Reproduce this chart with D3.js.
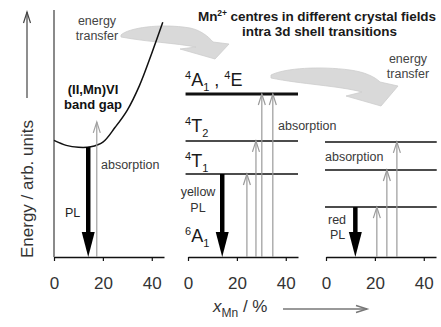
<!DOCTYPE html>
<html>
<head>
<meta charset="utf-8">
<script src="https://cdn.jsdelivr.net/npm/d3@7"></script>
<style>
  html, body { margin: 0; padding: 0; background: #fff; }
  svg { display: block; font-family: "Liberation Sans", Arial, Helvetica, sans-serif; }
</style>
</head>
<body>
<svg id="chart" width="441" height="327"></svg>
<script>
// ---- data -------------------------------------------------------------
const xTicks = [0, 20, 40];

// (II,Mn)VI band gap versus Mn content (x in %, energy in arb. units)
const gapX = [0, 5, 10, 15, 20, 25, 30, 35, 40, 44.5];
const gapE = [4.72, 4.52, 4.44, 4.46, 4.65, 5.25, 5.95, 6.95, 8.25, 9.5];
const gapAbsX = [17.5];
const gapAbsE = [5.47];
const gapPLX = [14];
const gapPLE = [4.45];

// Mn2+ levels, yellow-emitting centres: 4A1/4E, 4T2, 4T1
const yellowLevelE = [6.6, 4.7, 3.36];
const yellowAbsX = [24.1, 27.8, 30.2, 34.7];
const yellowAbsE = [3.36, 4.7, 6.6, 6.6];
const yellowPLX = [14];
const yellowPLE = [3.36];

// Mn2+ levels, red-emitting centres
const redLevelE = [4.66, 3.52, 2.02];
const redAbsX = [20.8, 24.9, 29];
const redAbsE = [2.02, 3.52, 4.66];
const redPLX = [12];
const redPLE = [2.02];

// ---- layout -----------------------------------------------------------
const svg = d3.select("#chart");
const font = "'Liberation Sans', Arial, Helvetica, sans-serif";
const axisY = 257;
const panelLeft = [54, 188, 326];
const panelSpan = 110;

const y = d3.scaleLinear().domain([0, 10]).range([axisY, 10]);
const xs = panelLeft.map(l => d3.scaleLinear().domain([0, 45]).range([l, l + panelSpan]));

// ---- energy-transfer arrows (drawn first, light grey ribbons) --------
const ribbon = svg.append("g");
ribbon.append("path")
  .attr("d", "M121,35 C128,28 160,23 190,28 C200,30 208,36 213,42 L229,44 L215,59 L180,49 L196,47 C175,43 148,42 121,37 Z");
ribbon.append("path")
  .attr("d", "M271,75 C285,68 320,66 350,70 C365,72 375,77 380,82 L398,86 L381,106 L346,96 L362,92 C340,86 300,84 271,78 Z");
ribbon.selectAll("path")
  .attr("fill", "#d9d9d9")
  .attr("stroke", "#cdcdcd")
  .attr("stroke-width", 0.8);

// ---- axes -------------------------------------------------------------
xs.forEach(x => {
  const g = svg.append("g")
    .attr("transform", `translate(0,${axisY})`)
    .call(d3.axisBottom(x).tickValues(xTicks).tickSize(4).tickSizeOuter(0).tickPadding(16));
  g.select(".domain").attr("stroke", "#111").attr("stroke-width", 1.6);
  g.selectAll(".tick line").attr("stroke", "#111").attr("stroke-width", 1.2);
  g.selectAll(".tick text")
    .attr("font-family", font).attr("font-size", 17).attr("fill", "#333");
});

// vertical energy axis of the band-gap panel
svg.append("line")
  .attr("x1", xs[0](0)).attr("x2", xs[0](0))
  .attr("y1", y(0)).attr("y2", y(10))
  .attr("stroke", "#8a8a8a").attr("stroke-width", 2);

// ---- helpers ----------------------------------------------------------
function absArrow(x, xv, e, color) {
  const px = x(xv), top = y(e);
  const g = svg.append("g").attr("stroke", color || "#9a9a9a").attr("fill", "none").attr("stroke-width", 1.2);
  g.append("line").attr("x1", px).attr("x2", px).attr("y1", y(0)).attr("y2", top);
  g.append("path").attr("d", `M${px - 3.5},${top + 11} L${px},${top} L${px + 3.5},${top + 11}`);
}

function plArrow(x, xv, e) {
  const px = x(xv), top = y(e), bottom = y(0);
  svg.append("line")
    .attr("x1", px).attr("x2", px).attr("y1", top).attr("y2", bottom - 20)
    .attr("stroke", "#000").attr("stroke-width", 4.5);
  svg.append("path")
    .attr("d", `M${px - 6.5},${bottom - 25} L${px + 6.5},${bottom - 25} L${px},${bottom} Z`)
    .attr("fill", "#000");
}

function levelLines(x, energies, x0, x1, thickFirst) {
  energies.forEach((e, i) => {
    svg.append("line")
      .attr("x1", x(x0)).attr("x2", x(x1))
      .attr("y1", y(e)).attr("y2", y(e))
      .attr("stroke", "#111")
      .attr("stroke-width", thickFirst && i === 0 ? 3 : 1.5);
  });
}

// term symbol such as 4T1: multiplicity superscript, letter, subscript.
// Returns the baseline offset left over by the subscript.
function term(text, mult, letter, sub, carry) {
  text.append("tspan").attr("font-size", 11).attr("dy", -7 - (carry || 0)).text(mult);
  text.append("tspan").attr("font-size", 18).attr("dy", 7).text(letter);
  if (sub) {
    text.append("tspan").attr("font-size", 11).attr("dy", 5).text(sub);
    return 5;
  }
  return 0;
}

function termLabel(py) {
  return svg.append("text").attr("x", xs[1](0) - 3).attr("y", py)
    .attr("font-family", font).attr("font-size", 18).attr("fill", "#1a1a1a");
}

function label(px, py, lines, opts) {
  const o = Object.assign({ size: 12.5, color: "#3a3a3a", anchor: "start", weight: "normal", gap: 15 }, opts);
  const t = svg.append("text")
    .attr("x", px).attr("y", py)
    .attr("font-family", font).attr("font-size", o.size)
    .attr("font-weight", o.weight).attr("fill", o.color)
    .attr("text-anchor", o.anchor);
  lines.forEach((s, i) => t.append("tspan").attr("x", px).attr("dy", i ? o.gap : 0).text(s));
  return t;
}

// ---- panel 1: band gap ------------------------------------------------
const gapLine = d3.line()
  .x(d => xs[0](d[0]))
  .y(d => y(d[1]))
  .curve(d3.curveCatmullRom);
svg.append("path")
  .datum(gapX.map((v, i) => [v, gapE[i]]))
  .attr("d", gapLine)
  .attr("fill", "none").attr("stroke", "#111").attr("stroke-width", 1.5);

gapAbsX.forEach((v, i) => absArrow(xs[0], v, gapAbsE[i], "#a0a0a0"));
gapPLX.forEach((v, i) => plArrow(xs[0], v, gapPLE[i]));

// ---- panel 2: yellow centres ----------------------------------------
levelLines(xs[1], yellowLevelE, -1, 45, true);
yellowAbsX.forEach((v, i) => absArrow(xs[1], v, yellowAbsE[i]));
yellowPLX.forEach((v, i) => plArrow(xs[1], v, yellowPLE[i]));

// ---- panel 3: red centres -------------------------------------------
levelLines(xs[2], redLevelE, -0.4, 45.3, false);
redAbsX.forEach((v, i) => absArrow(xs[2], v, redAbsE[i]));
redPLX.forEach((v, i) => plArrow(xs[2], v, redPLE[i]));

// ---- term symbols -----------------------------------------------------
const t1 = termLabel(y(yellowLevelE[0]) - 8);
let c = term(t1, "4", "A", "1");
t1.append("tspan").attr("font-size", 18).attr("dy", -c).text(" , ");
term(t1, "4", "E", "");

term(termLabel(y(yellowLevelE[1]) - 9), "4", "T", "2");
term(termLabel(y(yellowLevelE[2]) - 7), "4", "T", "1");
term(termLabel(y(0) - 15), "6", "A", "1");

// ---- annotations ------------------------------------------------------
label(97, 25, ["energy", "transfer"], { anchor: "middle", color: "#444" });
label(408, 63, ["energy", "transfer"], { anchor: "middle", color: "#444" });
label(93, 94, ["(II,Mn)VI", "band gap"], { anchor: "middle", weight: "bold", size: 13, color: "#111", gap: 14.5 });
label(101, 169, ["absorption"]);
label(65, 217, ["PL"], { color: "#222" });
label(198, 196, ["yellow", "PL"], { anchor: "middle", color: "#333", gap: 16 });
label(278, 130, ["absorption"]);
label(325, 161, ["absorption"]);
label(328, 224, ["red"], { color: "#333" });
label(330, 239, ["PL"], { color: "#333" });

// title, two lines, fitted to the width of the right-hand block
const title = svg.append("text")
  .attr("x", 198).attr("y", 21)
  .attr("font-family", font).attr("font-size", 13.5).attr("font-weight", "bold")
  .attr("fill", "#1a1a1a")
  .attr("textLength", 238).attr("lengthAdjust", "spacing");
title.append("tspan").text("Mn");
title.append("tspan").attr("font-size", 8.5).attr("dy", -5).text("2+");
title.append("tspan").attr("dy", 5).text(" centres in different crystal fields");
svg.append("text")
  .attr("x", 242).attr("y", 36)
  .attr("font-family", font).attr("font-size", 13.5).attr("font-weight", "bold")
  .attr("fill", "#1a1a1a")
  .attr("textLength", 155).attr("lengthAdjust", "spacing")
  .text("intra 3d shell transitions");

// y-axis title with arrow
svg.append("text")
  .attr("transform", `translate(33,${axisY + 1}) rotate(-90)`)
  .attr("font-family", font).attr("font-size", 17).attr("fill", "#333")
  .text("Energy / arb. units");
const yArrow = svg.append("g").attr("stroke", "#444").attr("stroke-width", 1.2).attr("fill", "none");
yArrow.append("line").attr("x1", 27).attr("x2", 27).attr("y1", 98).attr("y2", 12);
yArrow.append("path").attr("d", "M23.5,23 L27,12 L30.5,23");

// x-axis title with arrow
const xt = svg.append("text")
  .attr("x", 213).attr("y", 312)
  .attr("font-family", font).attr("font-size", 17).attr("fill", "#333");
xt.append("tspan").attr("font-style", "italic").text("x");
xt.append("tspan").attr("font-size", 12).attr("dy", 5).text("Mn");
xt.append("tspan").attr("dy", -5).text(" / %");
const xArrow = svg.append("g").attr("stroke", "#777").attr("stroke-width", 1.5).attr("fill", "none");
xArrow.append("line").attr("x1", 283).attr("x2", 367).attr("y1", 309).attr("y2", 309);
xArrow.append("path").attr("d", "M356,305.5 L367,309 L356,312.5");
</script>
</body>
</html>
